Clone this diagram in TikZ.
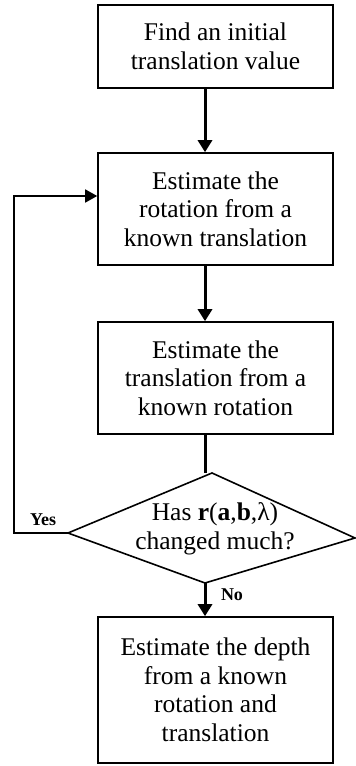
\documentclass[tikz,border=0pt]{standalone}
\usepackage{fontspec}
\setmainfont{Liberation Serif}
\usetikzlibrary{arrows.meta}
\begin{document}
\begin{tikzpicture}[x=1pt,y=1pt,
  stepbox/.style={draw, line width=1.6pt, minimum width=235pt, inner sep=0pt, align=center,
    font=\fontsize{25.5}{28.5}\selectfont},
  flow/.style={line width=3pt, -{Triangle[width=14pt,length=12pt]}},
  plain/.style={line width=1.6pt},
  lbl/.style={font=\fontsize{18}{20}\selectfont\bfseries, inner sep=0pt}]
\useasboundingbox (0,0) rectangle (356,-766);
\node[stepbox, minimum height=83pt] (b1) at (215.5,-46.5) {Find an initial\\translation value};
\node[stepbox, minimum height=112pt] (b2) at (215.5,-209) {Estimate the\\rotation from a\\known translation};
\node[stepbox, minimum height=112pt] (b3) at (215.5,-378) {Estimate the\\translation from a\\known rotation};
\node[stepbox, minimum height=146pt] (b4) at (215.5,-690) {Estimate the depth\\from a known\\rotation and\\translation};
\coordinate (dt) at (212,-473);
\coordinate (dr) at (355,-538);
\coordinate (db) at (205,-583);
\coordinate (dl) at (68,-533);
\draw[plain, line join=miter] (dt) -- (dr) -- (db) -- (dl) -- cycle;
\node[align=center, inner sep=0pt, font=\fontsize{25.5}{28.5}\selectfont] (dq) at (215,-529)
  {Has \textbf{r}(\textbf{a},\textbf{b},λ)\\changed much?};
\coordinate (b3s) at ([xshift=-10.5pt]b3.south);
\draw[flow] ([xshift=-10.5pt]b1.south) -- ([xshift=-10.5pt]b2.north);
\draw[flow] ([xshift=-10.5pt]b2.south) -- ([xshift=-10.5pt]b3.north);
\draw[line width=3pt] (b3s) -- (b3s |- dt);
\draw[flow] (db) -- (db |- b4.north);
\draw[plain, -{Triangle[width=13pt,length=12pt]}] (dl) -- (14,-533) |- ([yshift=13pt]b2.west);
\node[lbl] (yes) at (43,-520) {Yes};
\node[lbl] (no) at (232,-595) {No};
\end{tikzpicture}
\end{document}
